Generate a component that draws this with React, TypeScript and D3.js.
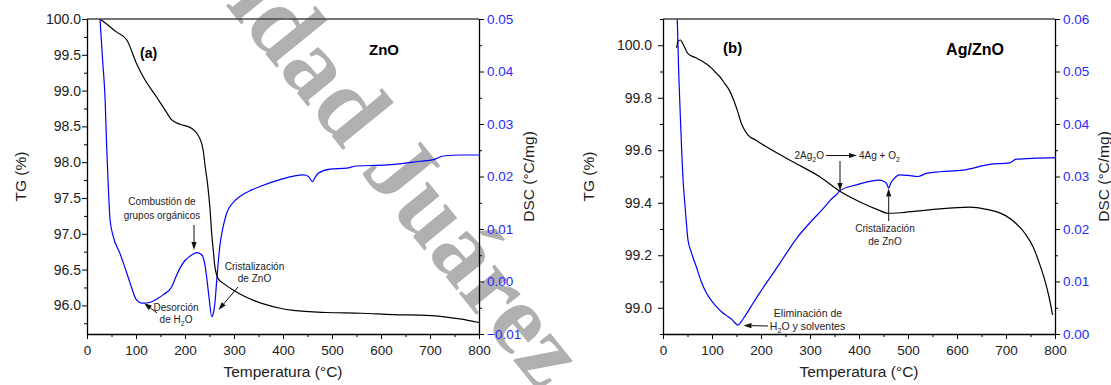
import * as d3 from 'd3';
import * as React from 'react';

const W = 1111;
const H = 385;
const FONT = '"Liberation Sans", Arial, Helvetica, sans-serif';
const BLUE = '#0000ff';
const BLUE_TXT = '#2a2aff';

// ZnO panel (a)
const znoTgTemp = [26.5, 40, 60, 81, 101, 115, 142, 160, 173, 190, 214, 229, 237, 241, 246, 251, 254, 258, 261, 268, 280, 299, 320, 340, 360, 394, 421, 489, 560, 625, 693, 730, 761, 800];
const znoTg = [100.0, 99.93, 99.82, 99.71, 99.38, 99.19, 98.91, 98.72, 98.59, 98.53, 98.47, 98.35, 98.17, 97.95, 97.7, 97.35, 97.05, 96.75, 96.54, 96.37, 96.3, 96.21, 96.13, 96.07, 96.02, 95.96, 95.93, 95.9, 95.89, 95.87, 95.86, 95.84, 95.81, 95.76];
const znoDscTemp = [26.5, 32, 37, 40, 43.5, 47, 53.5, 67, 78, 88, 101, 112, 128, 145, 156, 173, 182, 190, 200, 210, 224, 234, 240, 244, 249, 254.5, 258, 261, 265, 271, 278, 285, 298, 312, 335, 353, 394, 441, 452, 460, 466, 472, 496, 530, 550, 612, 680, 707, 727, 761, 800];
const znoDsc = [0.05, 0.042, 0.0346, 0.026, 0.0181, 0.0118, 0.0086, 0.0054, 0.0025, -0.0003, -0.0035, -0.0041, -0.004, -0.0032, -0.0025, -0.001, 0.001, 0.0026, 0.004, 0.0048, 0.0055, 0.0051, 0.0035, 0.001, -0.003, -0.0067, -0.006, -0.0041, 0.0005, 0.0067, 0.0105, 0.013, 0.015, 0.0162, 0.0174, 0.0181, 0.0194, 0.0203, 0.02, 0.019, 0.0199, 0.0206, 0.0214, 0.0216, 0.022, 0.0222, 0.0229, 0.0232, 0.0239, 0.0241, 0.0241];

// Ag/ZnO panel (b)
const agTgTemp = [28, 30.5, 35.5, 42, 51, 66, 82, 95, 105.5, 116, 126, 135, 143, 152, 160, 167, 173.5, 190, 211, 265, 320, 360, 400, 439, 459, 485, 517, 565, 626, 660, 680, 700, 721, 740, 755, 768, 779, 788, 795];
const agTg = [99.99, 100.015, 100.02, 100.0, 99.968, 99.953, 99.937, 99.92, 99.9, 99.88, 99.854, 99.83, 99.797, 99.75, 99.702, 99.675, 99.658, 99.638, 99.613, 99.556, 99.499, 99.445, 99.405, 99.373, 99.36, 99.362, 99.368, 99.377, 99.383, 99.375, 99.366, 99.35, 99.32, 99.28, 99.233, 99.17, 99.106, 99.04, 98.973];
const agDscTemp = [28, 32, 36, 41, 44, 47, 51, 58, 68, 78, 88.6, 100, 109, 120, 132.6, 140, 146, 153, 160, 166.7, 180, 197, 225, 252, 275, 299, 325, 347, 355, 360.6, 394.7, 442, 452, 456, 460.6, 465, 469, 483, 500, 520, 537.5, 565, 612, 667, 707.5, 721, 762, 800];
const agDsc = [0.064, 0.05, 0.04, 0.0293, 0.0255, 0.022, 0.0179, 0.0155, 0.0128, 0.01, 0.0078, 0.0062, 0.0052, 0.0042, 0.0033, 0.0028, 0.0022, 0.0017, 0.0024, 0.0033, 0.0053, 0.0078, 0.0116, 0.0154, 0.0185, 0.0211, 0.0237, 0.026, 0.0266, 0.0273, 0.0284, 0.0293, 0.029, 0.0287, 0.0278, 0.0288, 0.0293, 0.0303, 0.0302, 0.03, 0.0306, 0.0309, 0.0312, 0.0323, 0.0326, 0.0333, 0.0335, 0.0336];

const tempTicks = d3.range(0, 801, 100);
const tempMinor = d3.range(50, 800, 100);

const panels = [
  {
    id: 'a', x0: 87, x1: 479, y0: 19, y1: 334,
    tgDomain: [95.6, 100.0], dscDomain: [-0.01, 0.05],
    tgTicks: d3.range(96, 100.01, 0.5), tgMinor: d3.range(95.75, 100, 0.5),
    dscTicks: d3.range(-0.01, 0.0501, 0.01), dscMinor: d3.range(-0.005, 0.05, 0.01),
    tgT: znoTgTemp, tg: znoTg, dscT: znoDscTemp, dsc: znoDsc,
    leftPad: 1, tgTitleX: 20, dscTitleX: 528,
  },
  {
    id: 'b', x0: 663, x1: 1055, y0: 19, y1: 334,
    tgDomain: [98.9, 100.1], dscDomain: [0, 0.06],
    tgTicks: d3.range(99.0, 100.01, 0.2), tgMinor: d3.range(98.9, 100.11, 0.2),
    dscTicks: d3.range(0, 0.0601, 0.01), dscMinor: d3.range(0.005, 0.06, 0.01),
    tgT: agTgTemp, tg: agTg, dscT: agDscTemp, dsc: agDsc,
    leftPad: 6, tgTitleX: 588, dscTitleX: 1103,
  },
];

const addText = (g, x, y, str, size, opts: any = {}) => {
  const t = g.append('text')
    .attr('x', x).attr('y', y)
    .attr('font-family', FONT)
    .attr('font-size', size)
    .attr('text-anchor', opts.anchor || 'middle')
    .attr('fill', opts.fill || '#222')
    .text(str);
  if (opts.bold) t.attr('font-weight', 'bold');
  return t;
};

// text with a subscript "2" in the middle: before, sub, after
const addSubText = (g, x, y, before, sub, after, size, anchor = 'middle') => {
  const t = g.append('text')
    .attr('x', x).attr('y', y)
    .attr('font-family', FONT)
    .attr('font-size', size)
    .attr('text-anchor', anchor)
    .attr('fill', '#222');
  t.append('tspan').text(before);
  t.append('tspan').attr('font-size', size * 0.7).attr('dy', 3).text(sub);
  t.append('tspan').attr('dy', -3).text(after);
  return t;
};

const arrow = (g, xA, yA, xB, yB) => {
  // line from A to B with filled head at B
  const ang = Math.atan2(yB - yA, xB - xA);
  const len = 8;
  const hw = 2.6;
  const bx = xB - len * Math.cos(ang);
  const by = yB - len * Math.sin(ang);
  g.append('line')
    .attr('x1', xA).attr('y1', yA).attr('x2', bx).attr('y2', by)
    .attr('stroke', '#111').attr('stroke-width', 1);
  const px = -Math.sin(ang) * hw;
  const py = Math.cos(ang) * hw;
  g.append('path')
    .attr('d', `M${xB},${yB}L${bx + px},${by + py}L${bx - px},${by - py}Z`)
    .attr('fill', '#111');
};

const drawPanel = (svg, p) => {
  const x = d3.scaleLinear().domain([0, 800]).range([p.x0, p.x1]);
  const yT = d3.scaleLinear().domain(p.tgDomain).range([p.y1, p.y0]);
  const yD = d3.scaleLinear().domain(p.dscDomain).range([p.y1, p.y0]);
  const g = svg.append('g');

  const clipId = 'clip-' + p.id;
  svg.append('clipPath').attr('id', clipId)
    .append('rect')
    .attr('x', p.x0).attr('y', p.y0)
    .attr('width', p.x1 - p.x0).attr('height', p.y1 - p.y0);

  const line = (ys) => d3.line().x((d) => x(d[0])).y((d) => ys(d[1])).curve(d3.curveMonotoneX);

  g.append('path')
    .datum(d3.zip(p.dscT, p.dsc))
    .attr('d', line(yD))
    .attr('fill', 'none').attr('stroke', BLUE).attr('stroke-width', 1.2)
    .attr('clip-path', `url(#${clipId})`);

  g.append('path')
    .datum(d3.zip(p.tgT, p.tg))
    .attr('d', line(yT))
    .attr('fill', 'none').attr('stroke', '#000').attr('stroke-width', 1.2)
    .attr('clip-path', `url(#${clipId})`);

  // top frame
  g.append('line')
    .attr('x1', p.x0).attr('x2', p.x1).attr('y1', p.y0).attr('y2', p.y0)
    .attr('stroke', '#444').attr('stroke-width', 1.3);

  const styleAxis = (ax, color, size) => {
    ax.attr('font-family', FONT).attr('font-size', size);
    ax.select('.domain').attr('stroke', '#000').attr('stroke-width', 1.3);
    ax.selectAll('.tick line').attr('stroke', '#000');
    ax.selectAll('.tick text').attr('fill', color);
  };

  // left TG axis
  const gl = g.append('g').attr('transform', `translate(${p.x0},0)`)
    .call(d3.axisLeft(yT).tickValues(p.tgTicks).tickSize(5).tickSizeOuter(0).tickPadding(p.leftPad).tickFormat(d3.format('.1f')));
  styleAxis(gl, '#222', 14);
  g.append('g').attr('transform', `translate(${p.x0},0)`)
    .call(d3.axisLeft(yT).tickValues(p.tgMinor).tickSize(3).tickSizeOuter(0).tickFormat(() => ''))
    .call((a) => { a.select('.domain').remove(); a.selectAll('.tick line').attr('stroke', '#000'); });

  // right DSC axis
  const gr = g.append('g').attr('transform', `translate(${p.x1},0)`)
    .call(d3.axisRight(yD).tickValues(p.dscTicks).tickSize(5).tickSizeOuter(0).tickPadding(3).tickFormat(d3.format('.2f')));
  styleAxis(gr, BLUE_TXT, 13.5);
  g.append('g').attr('transform', `translate(${p.x1},0)`)
    .call(d3.axisRight(yD).tickValues(p.dscMinor).tickSize(3).tickSizeOuter(0).tickFormat(() => ''))
    .call((a) => { a.select('.domain').remove(); a.selectAll('.tick line').attr('stroke', '#000'); });

  // bottom temperature axis
  const gb = g.append('g').attr('transform', `translate(0,${p.y1})`)
    .call(d3.axisBottom(x).tickValues(tempTicks).tickSize(5).tickSizeOuter(0).tickPadding(6).tickFormat(d3.format('d')));
  styleAxis(gb, '#222', 13.5);
  g.append('g').attr('transform', `translate(0,${p.y1})`)
    .call(d3.axisBottom(x).tickValues(tempMinor).tickSize(3).tickSizeOuter(0).tickFormat(() => ''))
    .call((a) => { a.select('.domain').remove(); a.selectAll('.tick line').attr('stroke', '#000'); });

  // axis titles
  const midY = (p.y0 + p.y1) / 2;
  addText(g, (p.x0 + p.x1) / 2, 377, 'Temperatura (°C)', 15.5);
  addText(g, 0, 0, 'TG (%)', 15.5).attr('transform', `translate(${p.tgTitleX + 5.5},${midY}) rotate(-90)`);
  addText(g, 0, 0, 'DSC (°C/mg)', 15.5).attr('transform', `translate(${p.dscTitleX + 5.5},${midY}) rotate(-90)`);
  return g;
};

const App = () => {
  const ref = React.useRef<SVGSVGElement | null>(null);

  React.useEffect(() => {
    if (!ref.current) return;
    const svg = d3.select(ref.current);
    svg.selectAll('*').remove();

    svg.append('rect').attr('width', W).attr('height', H).attr('fill', '#fff');

    // watermark behind everything
    svg.append('text')
      .attr('transform', 'translate(15,-255) rotate(51)')
      .attr('font-family', '"Liberation Serif", "Times New Roman", serif')
      .attr('font-size', 100)
      .attr('font-weight', 'bold')
      .attr('fill', '#b0b0b0')
      .text('Universidad Juárez Autónoma de Tabasco');

    const ga = drawPanel(svg, panels[0]);
    const gb = drawPanel(svg, panels[1]);

    // panel (a) annotations
    addText(ga, 140, 58, '(a)', 14, { anchor: 'start', bold: true, fill: '#000' });
    addText(ga, 384, 55, 'ZnO', 15, { bold: true, fill: '#000' });
    addText(ga, 162, 205, 'Combustión de', 10);
    addText(ga, 162, 218.5, 'grupos orgánicos', 10);
    arrow(ga, 194, 225, 194, 250);
    addText(ga, 176, 311, 'Desorción', 10);
    addSubText(ga, 176, 323, 'de H', '2', 'O', 10);
    arrow(ga, 157, 313, 144, 303);
    addText(ga, 254.5, 270, 'Cristalización', 10);
    addText(ga, 254.5, 282, 'de ZnO', 10);
    arrow(ga, 238, 287, 218.5, 310);

    // panel (b) annotations
    addText(gb, 723, 53, '(b)', 15, { anchor: 'start', bold: true, fill: '#000' });
    addText(gb, 975, 55, 'Ag/ZnO', 16, { bold: true, fill: '#000' });
    addSubText(gb, 824, 159, '2Ag', '2', 'O', 10, 'end');
    arrow(gb, 826, 155.5, 857, 155.5);
    addSubText(gb, 859, 159, '4Ag + O', '2', '', 10, 'start');
    arrow(gb, 840, 161, 840, 191);
    addText(gb, 885, 232, 'Cristalización', 10);
    addText(gb, 885, 244.5, 'de ZnO', 10);
    arrow(gb, 888.7, 221, 888.7, 188.5);
    addText(gb, 808, 317, 'Eliminación de', 10.5);
    addSubText(gb, 807.5, 329.5, 'H', '2', 'O y solventes', 10.5);
    arrow(gb, 768, 326, 743.5, 325.5);
  }, []);

  return (
    <svg
      ref={ref}
      width={W}
      height={H}
      style={{ position: 'absolute', left: 0, top: 0, display: 'block' }}
    />
  );
};

export default App;
